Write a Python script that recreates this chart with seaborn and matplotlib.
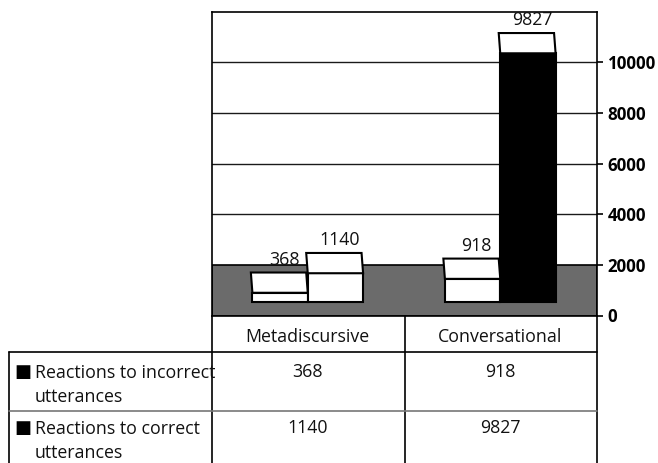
import matplotlib
matplotlib.use("Agg")
import matplotlib.pyplot as plt
import matplotlib.transforms as mtransforms
from matplotlib.patches import Polygon
from matplotlib.lines import Line2D
import pandas as pd
import seaborn as sns

# ---- data -------------------------------------------------------------
categories = ["Metadiscursive", "Conversational"]
series_labels = ["Reactions to incorrect\nutterances", "Reactions to correct\nutterances"]
incorrect_values = [368, 918]
correct_values = [1140, 9827]
y_ticks = [0, 2000, 4000, 6000, 8000, 10000]

series_values = [incorrect_values, correct_values]
df = pd.DataFrame({
    "category": categories * 2,
    "series": [series_labels[0]] * 2 + [series_labels[1]] * 2,
    "value": incorrect_values + correct_values,
})

# ---- styling ----------------------------------------------------------
front_colors = [["white", "white"], ["white", "black"]]
floor_color = "#6b6b6b"
bar_base = 530        # pseudo-3D floor offset of the bars (value units)
lid_depth = 800       # height of the visible top face (value units)
lid_skew = 0.008      # leftward lean of the top face (category units)
text_size = 12.8

sns.set_theme(style="white")
plt.rcParams["font.family"] = ["Open Sans", "DejaVu Sans"]
plt.rcParams["text.color"] = "black"

W, H = 658, 463
fig = plt.figure(figsize=(W / 100, H / 100), dpi=100)
fig.patch.set_facecolor("white")


def fx(x):
    return x / W


def fy(y):
    return 1 - y / H


left_px, right_px, top_px, bottom_px = 211.5, 596.5, 11.7, 315.5
ax = fig.add_axes([fx(left_px), fy(bottom_px),
                   (right_px - left_px) / W, (bottom_px - top_px) / H])

# floor and gridlines
ax.axhspan(0, 2000, facecolor=floor_color, edgecolor="black", linewidth=1.2, zorder=1)
for t in y_ticks[2:]:
    ax.axhline(t, color="#1a1a1a", linewidth=1.0, zorder=1)

sns.barplot(data=df, x="category", y="value", hue="series",
            order=categories, hue_order=series_labels,
            palette=["white", "white"], width=0.575, saturation=1,
            edgecolor="black", linewidth=1.5, legend=False, ax=ax, zorder=3)

for si, container in enumerate(ax.containers):
    for ci, bar in enumerate(container):
        h = bar.get_height()
        bar.set_y(bar_base)
        bar.set_facecolor(front_colors[si][ci])
        x0 = bar.get_x()
        x1 = x0 + bar.get_width()
        top = bar_base + h
        lid = Polygon([(x0, top), (x1, top),
                       (x1 - lid_skew, top + lid_depth),
                       (x0 - lid_skew, top + lid_depth)],
                      closed=True, facecolor="white", edgecolor="black",
                      linewidth=1.5, zorder=3)
        ax.add_patch(lid)
        ax.annotate(f"{series_values[si][ci]}",
                    xy=((x0 + x1) / 2, top + lid_depth),
                    xytext=(4, 8), textcoords="offset pixels",
                    ha="center", va="baseline", fontsize=text_size,
                    color="#111111", zorder=5, annotation_clip=False)

ax.set_xlim(-0.5, 1.5)
ax.set_ylim(0, 12000)
ax.set_xlabel("")
ax.set_ylabel("")
ax.set_xticks([])
ax.yaxis.tick_right()
ax.set_yticks(y_ticks)
ax.set_yticklabels([str(t) for t in y_ticks], fontweight="bold", fontsize=12.2)
ax.tick_params(axis="y", right=True, left=False, direction="out",
               length=4.5, width=1.2, pad=3.5, colors="black")
for sp in ax.spines.values():
    sp.set_visible(True)
    sp.set_color("black")
    sp.set_linewidth(1.2)

# ---- data table beneath the plot ---------------------------------------
def hline(y, x0, x1, color="black", lw=1.2):
    fig.add_artist(Line2D([fx(x0), fx(x1)], [fy(y), fy(y)], color=color, linewidth=lw))


def vline(x, y0, y1, color="black", lw=1.2):
    fig.add_artist(Line2D([fx(x), fx(x)], [fy(y0), fy(y1)], color=color, linewidth=lw))


col_edges = [211.5, 405, 596.5]
for x in col_edges:
    vline(x, 315.5, H)
vline(9, 352, H)
hline(352, 9, 596.5)
hline(410.5, 9, 596.5, color="#777777")

cols = mtransforms.blended_transform_factory(ax.transData, fig.transFigure)
for ci, cat in enumerate(categories):
    fig.text(ci, fy(341.5), cat, transform=cols, ha="center", va="baseline",
             fontsize=text_size, color="#111111")

row_baselines = [377, 433]
for si, label in enumerate(series_labels):
    yb = row_baselines[si]
    fig.text(fx(14), fy(yb), "\u25A0", ha="left", va="baseline",
             fontsize=13, family="DejaVu Sans", color="black")
    fig.text(fx(35), fy(yb), label, ha="left", va="top", fontsize=text_size,
             color="#111111", linespacing=1.45,
             transform=mtransforms.offset_copy(fig.transFigure, fig=fig, y=12.9, units="dots"))
    for ci, v in enumerate(series_values[si]):
        fig.text(ci, fy(yb), f"{v}", transform=cols, ha="center", va="baseline",
                 fontsize=text_size, color="#111111")

fig.savefig("out.png", dpi=100, facecolor="white")
